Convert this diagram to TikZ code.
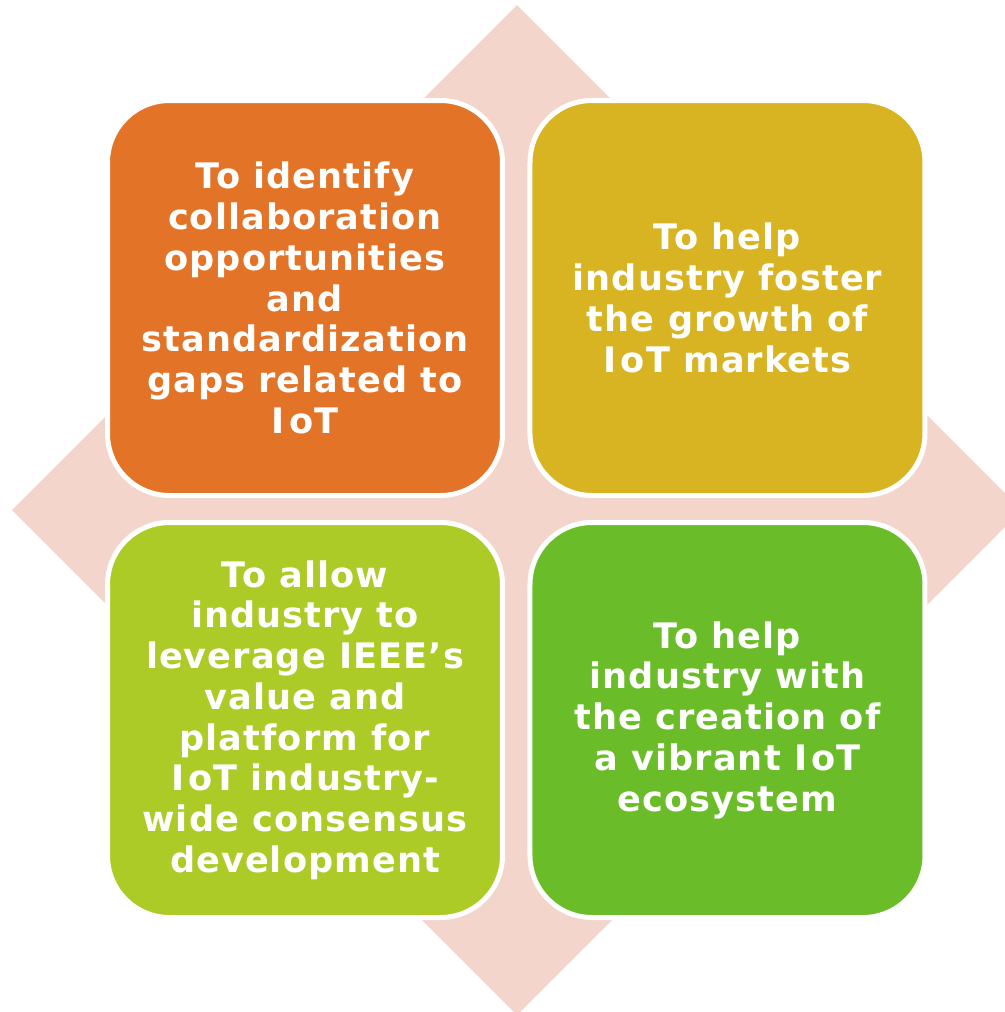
\documentclass[tikz,border=0pt]{standalone}
\usepackage{fontspec}
\setmainfont{DejaVu Sans}
\newfontfamily\goalfont[LetterSpace=3]{DejaVu Sans}
\usepackage{tikz}
\definecolor{diamond pink}{RGB}{243,213,204}
\definecolor{box orange}{RGB}{227,115,38}
\definecolor{box yellow}{RGB}{216,180,34}
\definecolor{box lime}{RGB}{173,203,38}
\definecolor{box green}{RGB}{106,189,40}
\tikzset{
	goal/.style = {draw=white, line width=0.05cm, rounded corners=0.62cm,
		minimum width=3.95cm, minimum height=3.95cm, inner sep=0pt,
		text=white, align=center, font=\goalfont\bfseries\fontsize{10}{11.6}\selectfont}
}
\newcommand{\iot}{I\kern0.12em oT}

\begin{document}
\begin{tikzpicture}
		\useasboundingbox (0, 0) rectangle (10.05, -10.12);
		% background diamond
		\begin{scope}
			\clip (0, 0) rectangle (10.05, -10.12);
			\fill[diamond pink] (5.17, -0.05) -- (10.22, -5.1) -- (5.17, -10.15) -- (0.12, -5.1) -- cycle;
		\end{scope}
		% the four goals
		\node[goal, fill=box orange] (identify) at (3.05, -2.98)
			{To identify\\collaboration\\opportunities\\and\\standardization\\gaps related to\\\iot};
		\node[goal, fill=box yellow] (foster) at (7.275, -2.98)
			{To help\\industry foster\\the growth of\\\iot{} markets};
		\node[goal, fill=box lime] (leverage) at (3.05, -7.2)
			{To allow\\industry to\\leverage IEEE’s\\value and\\platform for\\\iot{} industry-\\wide consensus\\development};
		\node[goal, fill=box green] (ecosystem) at (7.275, -7.2)
			{To help\\industry with\\the creation of\\a vibrant \iot\\ecosystem};
	\end{tikzpicture}
\end{document}
